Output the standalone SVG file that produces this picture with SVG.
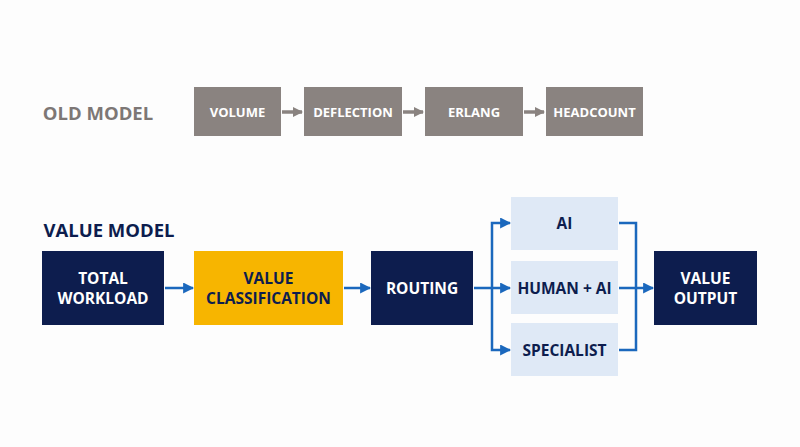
<svg xmlns="http://www.w3.org/2000/svg" width="800" height="447" viewBox="0 0 800 447">
<style>
text{font-family:"Open Sans","Liberation Sans",Arial,sans-serif;font-weight:700;text-anchor:middle}
.old rect{fill:#8a8380}
.old text{fill:#fff;font-size:13px}
.navy rect{fill:#0d1d4e}
.navy text{fill:#fff;font-size:15.5px}
.lite rect{fill:#dfe9f6}
.lite text{fill:#0d1d4e;font-size:15.5px}
.gold rect{fill:#f7b500}
.gold text{fill:#0d1d4e;font-size:15.5px}
.ga{stroke:#8a8380;stroke-width:3.5;fill:none}
.ba{stroke:#1b68bd;stroke-width:2.5;fill:none}
</style>
<defs>
<marker id="mg" viewBox="0 0 10 10" refX="9" refY="5" markerWidth="3" markerHeight="3.3" orient="auto" markerUnits="strokeWidth"><path d="M0,0L10,5L0,10z" fill="#8a8380"/></marker>
<marker id="mb" viewBox="0 0 10 10" refX="9" refY="5" markerWidth="4.4" markerHeight="4.4" orient="auto" markerUnits="strokeWidth"><path d="M0,0L10,5L0,10z" fill="#1b68bd"/></marker>
</defs>
<rect width="800" height="447" fill="#fdfdfd"/>
<text x="98" y="120" style="font-size:18.5px;fill:#7d7775">OLD MODEL</text>
<text x="109" y="237" style="font-size:18.5px;fill:#0d1d4e">VALUE MODEL</text>
<g id="volume" class="old"><rect x="194" y="87" width="87" height="49"/><text x="237.5" y="116.5">VOLUME</text></g>
<g id="deflection" class="old"><rect x="304" y="87" width="98" height="49"/><text x="353" y="116.5">DEFLECTION</text></g>
<g id="erlang" class="old"><rect x="425" y="87" width="98" height="49"/><text x="474" y="116.5">ERLANG</text></g>
<g id="headcount" class="old"><rect x="546" y="87" width="97" height="49"/><text x="594.5" y="116.5">HEADCOUNT</text></g>
<g id="total" class="navy"><rect x="42" y="251" width="122" height="74"/><text x="103" y="284">TOTAL</text><text x="103" y="304">WORKLOAD</text></g>
<g id="classification" class="gold"><rect x="194" y="251" width="149" height="74"/><text x="268.5" y="284">VALUE</text><text x="268.5" y="304">CLASSIFICATION</text></g>
<g id="routing" class="navy"><rect x="371" y="251" width="102" height="74"/><text x="422" y="294">ROUTING</text></g>
<g id="ai" class="lite"><rect x="511" y="197" width="107" height="53"/><text x="564.5" y="229">AI</text></g>
<g id="humanai" class="lite"><rect x="511" y="261" width="107" height="53"/><text x="564.5" y="294">HUMAN + AI</text></g>
<g id="specialist" class="lite"><rect x="511" y="323" width="107" height="53"/><text x="564.5" y="356">SPECIALIST</text></g>
<g id="output" class="navy"><rect x="654" y="251" width="103" height="74"/><text x="705.5" y="284">VALUE</text><text x="705.5" y="304">OUTPUT</text></g>
<g id="connectors">
<path class="ga" d="M282,112H302" marker-end="url(#mg)"/>
<path class="ga" d="M403,112H423" marker-end="url(#mg)"/>
<path class="ga" d="M524,112H544" marker-end="url(#mg)"/>
<path class="ba" d="M165,288H193" marker-end="url(#mb)"/>
<path class="ba" d="M344,288H370" marker-end="url(#mb)"/>
<path class="ba" d="M474,288H510" marker-end="url(#mb)"/>
<path class="ba" d="M492,288V223H510" marker-end="url(#mb)"/>
<path class="ba" d="M492,288V350H510" marker-end="url(#mb)"/>
<path class="ba" d="M619,288H653" marker-end="url(#mb)"/>
<path class="ba" d="M619,223H636V350H619"/>
</g>
</svg>
